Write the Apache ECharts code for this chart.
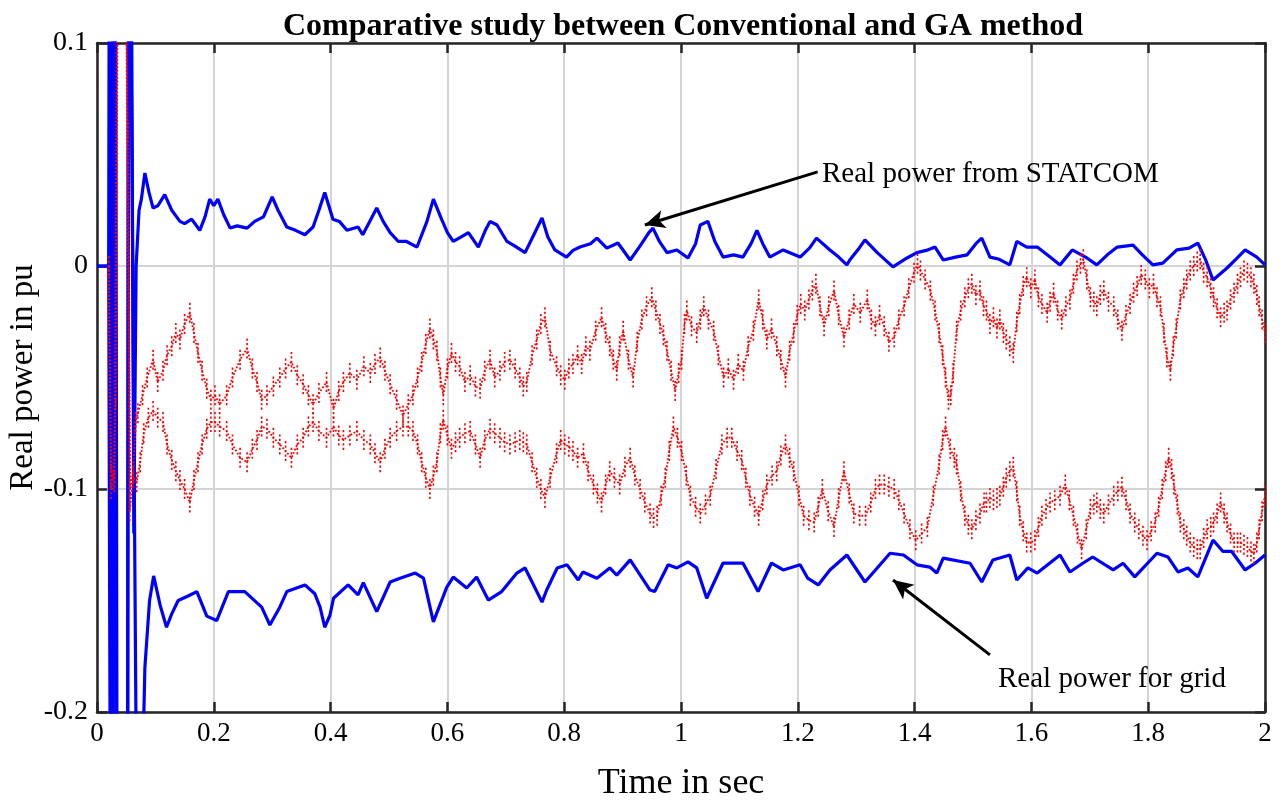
<!DOCTYPE html>
<html>
<head>
<meta charset="utf-8">
<script src="https://cdn.jsdelivr.net/npm/echarts@6/dist/echarts.min.js"></script>
<style>
html,body{margin:0;padding:0;background:#fff;}
#chart{width:1288px;height:809px;}
</style>
</head>
<body>
<div id="chart"></div>
<script>
// ---------- data (time in s, real power in pu) ----------
const titleText = 'Comparative study between Conventional and GA method';
const xTicks = [0, 0.2, 0.4, 0.6, 0.8, 1, 1.2, 1.4, 1.6, 1.8, 2];
const yTicks = [-0.2, -0.1, 0, 0.1];

// Real power from STATCOM (blue, upper)
const statcom = [
[0,0],[0.020,0],[0.022,0.3],[0.026,-0.35],[0.031,0.3],[0.035,-0.35],[0.052,-0.35],[0.055,0.3],[0.058,0.2],
[0.063,-0.12],[0.067,0.0],[0.072,0.025],[0.076,0.030],[0.082,0.0417],[0.089,0.033],[0.096,0.026],[0.104,0.027],
[0.116,0.032],[0.128,0.025],[0.142,0.020],[0.150,0.019],[0.162,0.021],[0.176,0.016],[0.185,0.022],[0.193,0.030],
[0.200,0.027],[0.207,0.030],[0.217,0.023],[0.228,0.017],[0.240,0.018],[0.257,0.017],[0.270,0.020],[0.285,0.022],
[0.300,0.031],[0.310,0.025],[0.325,0.0175],[0.340,0.016],[0.356,0.014],[0.370,0.0175],[0.380,0.025],[0.390,0.033],
[0.404,0.021],[0.415,0.020],[0.428,0.016],[0.447,0.0175],[0.455,0.014],[0.467,0.020],[0.479,0.026],[0.490,0.020],
[0.502,0.015],[0.516,0.011],[0.530,0.011],[0.548,0.0085],[0.565,0.020],[0.576,0.030],[0.590,0.021],[0.600,0.015],
[0.610,0.011],[0.623,0.013],[0.636,0.015],[0.653,0.0085],[0.665,0.016],[0.673,0.020],[0.685,0.0184],[0.702,0.011],
[0.715,0.009],[0.733,0.006],[0.748,0.014],[0.762,0.0215],[0.772,0.013],[0.784,0.0072],[0.804,0.004],[0.815,0.007],
[0.827,0.0085],[0.845,0.010],[0.856,0.0125],[0.873,0.008],[0.892,0.0103],[0.913,0.0027],[0.930,0.009],[0.945,0.015],
[0.952,0.017],[0.963,0.011],[0.976,0.006],[0.993,0.0072],[1.012,0.0036],[1.025,0.010],[1.033,0.0184],[1.046,0.020],
[1.058,0.011],[1.072,0.004],[1.090,0.005],[1.106,0.004],[1.120,0.010],[1.130,0.016],[1.140,0.010],[1.152,0.004],
[1.175,0.0072],[1.204,0.004],[1.220,0.008],[1.232,0.0125],[1.255,0.0072],[1.270,0.004],[1.284,0.0005],[1.289,0.0027],
[1.305,0.008],[1.315,0.0117],[1.336,0.006],[1.363,-0.0004],[1.387,0.0036],[1.404,0.006],[1.420,0.007],[1.435,0.0085],
[1.449,0.0027],[1.470,0.004],[1.490,0.005],[1.505,0.010],[1.515,0.0125],[1.529,0.004],[1.545,0.003],[1.563,0.0005],
[1.575,0.011],[1.592,0.0085],[1.610,0.0085],[1.632,0.004],[1.649,0.0005],[1.670,0.0072],[1.695,0.0036],[1.712,0.0005],
[1.730,0.005],[1.747,0.0085],[1.774,0.0094],[1.790,0.005],[1.808,0.0005],[1.825,0.0013],[1.849,0.0072],[1.870,0.008],
[1.885,0.0103],[1.898,0.003],[1.911,-0.0063],[1.935,-0.0009],[1.950,0.003],[1.966,0.0072],[1.986,0.004],[2.000,0.0005]
];

// Real power for grid (blue, lower)
const grid = [
[0,0],[0.020,0],[0.024,-0.35],[0.029,0.3],[0.033,-0.35],[0.052,-0.35],[0.054,0.3],[0.057,0.15],[0.068,-0.25],
[0.076,-0.25],[0.082,-0.18],[0.090,-0.150],[0.097,-0.139],[0.108,-0.152],[0.119,-0.162],[0.128,-0.156],[0.139,-0.150],
[0.156,-0.148],[0.171,-0.146],[0.188,-0.157],[0.205,-0.159],[0.225,-0.146],[0.253,-0.146],[0.282,-0.153],[0.296,-0.161],
[0.313,-0.153],[0.325,-0.146],[0.356,-0.143],[0.373,-0.147],[0.382,-0.153],[0.390,-0.162],[0.399,-0.1565],[0.405,-0.149],
[0.430,-0.143],[0.447,-0.1475],[0.456,-0.142],[0.479,-0.155],[0.502,-0.1417],[0.519,-0.140],[0.545,-0.1377],[0.559,-0.140],
[0.576,-0.1596],[0.599,-0.144],[0.610,-0.1395],[0.633,-0.1444],[0.650,-0.1395],[0.670,-0.1498],[0.693,-0.146],[0.719,-0.1377],
[0.733,-0.1354],[0.762,-0.1507],[0.770,-0.1453],[0.788,-0.1354],[0.805,-0.134],[0.824,-0.1408],[0.832,-0.1372],[0.856,-0.140],
[0.878,-0.1354],[0.890,-0.1386],[0.913,-0.1318],[0.947,-0.1453],[0.955,-0.146],[0.978,-0.134],[0.993,-0.1354],[1.012,-0.1327],
[1.027,-0.1354],[1.044,-0.149],[1.072,-0.1332],[1.106,-0.1332],[1.132,-0.146],[1.155,-0.1332],[1.175,-0.1363],[1.204,-0.134],
[1.217,-0.140],[1.235,-0.143],[1.255,-0.1363],[1.284,-0.1296],[1.315,-0.1417],[1.336,-0.1354],[1.358,-0.1288],[1.381,-0.1296],
[1.404,-0.134],[1.426,-0.135],[1.438,-0.1377],[1.449,-0.131],[1.495,-0.1333],[1.515,-0.1417],[1.534,-0.1318],[1.563,-0.1296],
[1.575,-0.1408],[1.594,-0.1354],[1.610,-0.1377],[1.649,-0.1296],[1.666,-0.1372],[1.688,-0.1333],[1.705,-0.1305],[1.740,-0.1363],
[1.757,-0.1333],[1.777,-0.1394],[1.815,-0.1288],[1.834,-0.1305],[1.851,-0.1372],[1.868,-0.1354],[1.885,-0.1394],[1.911,-0.1229],
[1.928,-0.128],[1.943,-0.128],[1.966,-0.1363],[1.983,-0.1333],[2.000,-0.1296]
];

// Conventional method (red dotted), upper trace
const redUpper = [
[0.020,0],[0.024,-0.090],[0.028,-0.096],[0.032,-0.060],[0.036,0.150],[0.048,0.150],[0.053,0.060],[0.057,-0.100],
[0.062,-0.092],[0.066,-0.070],[0.070,-0.066],[0.078,-0.058],[0.086,-0.050],[0.096,-0.042],[0.104,-0.052],[0.113,-0.047],
[0.120,-0.040],[0.128,-0.036],[0.135,-0.030],[0.142,-0.033],[0.150,-0.026],[0.159,-0.021],[0.166,-0.030],[0.173,-0.039],
[0.180,-0.047],[0.188,-0.055],[0.195,-0.060],[0.202,-0.058],[0.210,-0.062],[0.222,-0.058],[0.232,-0.050],[0.245,-0.042],
[0.257,-0.037],[0.266,-0.046],[0.274,-0.052],[0.282,-0.060],[0.291,-0.058],[0.302,-0.054],[0.313,-0.050],[0.323,-0.046],
[0.333,-0.043],[0.343,-0.049],[0.353,-0.053],[0.362,-0.058],[0.370,-0.062],[0.380,-0.057],[0.393,-0.052],[0.405,-0.064],
[0.414,-0.056],[0.422,-0.052],[0.433,-0.048],[0.445,-0.051],[0.457,-0.045],[0.468,-0.048],[0.476,-0.044],[0.485,-0.041],
[0.493,-0.047],[0.502,-0.053],[0.513,-0.060],[0.524,-0.067],[0.533,-0.062],[0.541,-0.058],[0.549,-0.050],[0.556,-0.043],
[0.563,-0.035],[0.570,-0.028],[0.576,-0.033],[0.582,-0.038],[0.588,-0.050],[0.593,-0.058],[0.600,-0.046],[0.607,-0.039],
[0.614,-0.043],[0.621,-0.045],[0.630,-0.052],[0.639,-0.049],[0.648,-0.054],[0.656,-0.055],[0.664,-0.047],[0.673,-0.042],
[0.681,-0.050],[0.690,-0.047],[0.698,-0.043],[0.707,-0.042],[0.716,-0.046],[0.724,-0.050],[0.730,-0.054],[0.736,-0.052],
[0.745,-0.040],[0.753,-0.033],[0.760,-0.026],[0.767,-0.023],[0.776,-0.038],[0.787,-0.045],[0.794,-0.049],[0.801,-0.051],
[0.808,-0.046],[0.815,-0.044],[0.823,-0.040],[0.830,-0.044],[0.837,-0.036],[0.844,-0.038],[0.854,-0.029],[0.864,-0.023],
[0.871,-0.030],[0.878,-0.036],[0.884,-0.042],[0.890,-0.047],[0.895,-0.036],[0.901,-0.029],[0.910,-0.042],[0.918,-0.050],
[0.925,-0.034],[0.933,-0.024],[0.941,-0.018],[0.950,-0.014],[0.957,-0.020],[0.964,-0.026],[0.970,-0.031],[0.976,-0.038],
[0.983,-0.047],[0.990,-0.056],[0.996,-0.048],[1.001,-0.042],[1.006,-0.026],[1.010,-0.020],[1.018,-0.027],[1.027,-0.030],
[1.033,-0.024],[1.039,-0.018],[1.047,-0.024],[1.056,-0.029],[1.064,-0.040],[1.073,-0.050],[1.081,-0.046],[1.090,-0.051],
[1.098,-0.044],[1.107,-0.047],[1.115,-0.036],[1.124,-0.029],[1.133,-0.015],[1.140,-0.024],[1.147,-0.033],[1.155,-0.028],
[1.164,-0.036],[1.171,-0.042],[1.179,-0.050],[1.186,-0.038],[1.193,-0.030],[1.199,-0.022],[1.205,-0.017],[1.212,-0.020],
[1.219,-0.015],[1.225,-0.011],[1.231,-0.008],[1.238,-0.018],[1.245,-0.027],[1.253,-0.018],[1.262,-0.011],[1.270,-0.022],
[1.279,-0.032],[1.288,-0.024],[1.296,-0.017],[1.307,-0.021],[1.319,-0.015],[1.326,-0.024],[1.333,-0.027],[1.340,-0.022],
[1.348,-0.027],[1.356,-0.034],[1.365,-0.032],[1.373,-0.024],[1.382,-0.018],[1.390,-0.010],[1.399,-0.003],[1.405,0.001],
[1.410,-0.002],[1.418,-0.006],[1.427,-0.011],[1.435,-0.020],[1.442,-0.030],[1.448,-0.040],[1.453,-0.050],[1.458,-0.060],
[1.462,-0.058],[1.466,-0.048],[1.472,-0.029],[1.479,-0.020],[1.486,-0.014],[1.492,-0.010],[1.498,-0.008],[1.505,-0.013],
[1.512,-0.011],[1.518,-0.018],[1.523,-0.020],[1.529,-0.026],[1.535,-0.023],[1.541,-0.028],[1.546,-0.024],[1.552,-0.030],
[1.557,-0.033],[1.563,-0.036],[1.569,-0.039],[1.575,-0.025],[1.580,-0.017],[1.586,-0.009],[1.592,-0.005],[1.599,-0.010],
[1.606,-0.006],[1.612,-0.014],[1.618,-0.017],[1.627,-0.021],[1.632,-0.016],[1.638,-0.012],[1.645,-0.020],[1.652,-0.024],
[1.659,-0.018],[1.666,-0.015],[1.672,-0.008],[1.678,-0.002],[1.684,0.001],[1.689,0.003],[1.695,-0.006],[1.701,-0.014],
[1.707,-0.016],[1.712,-0.018],[1.718,-0.013],[1.724,-0.011],[1.732,-0.016],[1.741,-0.018],[1.748,-0.024],[1.755,-0.029],
[1.762,-0.022],[1.769,-0.017],[1.775,-0.012],[1.781,-0.009],[1.788,-0.004],[1.795,-0.006],[1.802,-0.010],[1.809,-0.008],
[1.815,-0.014],[1.821,-0.018],[1.827,-0.030],[1.832,-0.041],[1.838,-0.047],[1.843,-0.036],[1.848,-0.028],[1.855,-0.015],
[1.861,-0.010],[1.866,-0.006],[1.872,-0.002],[1.878,0.000],[1.884,0.002],[1.889,0.003],[1.895,-0.003],[1.901,-0.005],
[1.907,-0.010],[1.912,-0.014],[1.918,-0.019],[1.924,-0.023],[1.930,-0.021],[1.935,-0.020],[1.941,-0.015],[1.947,-0.012],
[1.953,-0.008],[1.958,-0.005],[1.964,-0.002],[1.970,-0.003],[1.976,-0.005],[1.981,-0.008],[1.986,-0.013],[1.990,-0.018],
[1.995,-0.024],[2.000,-0.030]
];

// Conventional method (red dotted), lower trace
const redLower = [
[0.020,0],[0.024,-0.100],[0.030,-0.097],[0.034,0.120],[0.050,0.120],[0.056,-0.110],[0.062,-0.095],[0.068,-0.097],
[0.074,-0.088],[0.080,-0.075],[0.088,-0.068],[0.096,-0.065],[0.104,-0.068],[0.113,-0.070],[0.120,-0.080],[0.128,-0.087],
[0.135,-0.092],[0.142,-0.096],[0.150,-0.100],[0.159,-0.106],[0.166,-0.096],[0.173,-0.088],[0.180,-0.080],[0.188,-0.073],
[0.195,-0.070],[0.202,-0.070],[0.210,-0.072],[0.222,-0.074],[0.232,-0.080],[0.245,-0.086],[0.257,-0.088],[0.266,-0.082],
[0.274,-0.078],[0.282,-0.072],[0.291,-0.073],[0.302,-0.077],[0.313,-0.080],[0.323,-0.083],[0.333,-0.086],[0.343,-0.080],
[0.353,-0.077],[0.362,-0.072],[0.370,-0.070],[0.380,-0.074],[0.393,-0.077],[0.405,-0.072],[0.414,-0.076],[0.422,-0.078],
[0.433,-0.076],[0.445,-0.074],[0.457,-0.078],[0.468,-0.080],[0.476,-0.084],[0.485,-0.088],[0.493,-0.082],[0.502,-0.077],
[0.513,-0.074],[0.524,-0.072],[0.533,-0.072],[0.541,-0.074],[0.549,-0.080],[0.556,-0.088],[0.563,-0.095],[0.570,-0.100],
[0.576,-0.094],[0.582,-0.088],[0.588,-0.075],[0.593,-0.069],[0.600,-0.076],[0.607,-0.082],[0.614,-0.079],[0.621,-0.077],
[0.630,-0.075],[0.639,-0.074],[0.648,-0.080],[0.656,-0.086],[0.664,-0.078],[0.673,-0.073],[0.681,-0.075],[0.690,-0.077],
[0.698,-0.079],[0.707,-0.080],[0.716,-0.079],[0.724,-0.078],[0.730,-0.079],[0.736,-0.080],[0.745,-0.088],[0.753,-0.095],
[0.760,-0.100],[0.767,-0.104],[0.776,-0.095],[0.787,-0.084],[0.794,-0.078],[0.801,-0.080],[0.808,-0.081],[0.815,-0.083],
[0.823,-0.086],[0.833,-0.084],[0.841,-0.092],[0.850,-0.098],[0.857,-0.102],[0.864,-0.106],[0.871,-0.098],[0.878,-0.092],
[0.886,-0.095],[0.895,-0.098],[0.904,-0.090],[0.913,-0.086],[0.921,-0.094],[0.930,-0.100],[0.938,-0.106],[0.947,-0.111],
[0.953,-0.113],[0.959,-0.112],[0.966,-0.103],[0.973,-0.095],[0.980,-0.083],[0.987,-0.072],[0.994,-0.077],[1.001,-0.083],
[1.009,-0.094],[1.016,-0.103],[1.025,-0.108],[1.033,-0.111],[1.042,-0.107],[1.050,-0.103],[1.060,-0.091],[1.070,-0.080],
[1.079,-0.077],[1.087,-0.077],[1.096,-0.083],[1.104,-0.087],[1.111,-0.095],[1.118,-0.103],[1.126,-0.108],[1.133,-0.112],
[1.140,-0.105],[1.147,-0.098],[1.156,-0.094],[1.164,-0.092],[1.171,-0.085],[1.179,-0.080],[1.186,-0.086],[1.193,-0.092],
[1.202,-0.103],[1.210,-0.112],[1.219,-0.114],[1.228,-0.115],[1.235,-0.108],[1.242,-0.100],[1.252,-0.110],[1.262,-0.117],
[1.270,-0.104],[1.279,-0.092],[1.288,-0.102],[1.296,-0.111],[1.306,-0.112],[1.316,-0.112],[1.325,-0.106],[1.333,-0.100],
[1.340,-0.098],[1.348,-0.098],[1.356,-0.099],[1.365,-0.100],[1.373,-0.105],[1.382,-0.111],[1.392,-0.118],[1.402,-0.123],
[1.412,-0.120],[1.422,-0.117],[1.432,-0.103],[1.442,-0.089],[1.448,-0.078],[1.453,-0.072],[1.461,-0.082],[1.468,-0.086],
[1.472,-0.089],[1.479,-0.101],[1.486,-0.112],[1.492,-0.116],[1.498,-0.118],[1.505,-0.114],[1.512,-0.111],[1.519,-0.106],
[1.523,-0.106],[1.529,-0.104],[1.535,-0.105],[1.541,-0.104],[1.546,-0.103],[1.552,-0.099],[1.557,-0.095],[1.563,-0.092],
[1.569,-0.090],[1.575,-0.101],[1.580,-0.112],[1.586,-0.119],[1.592,-0.124],[1.599,-0.124],[1.606,-0.123],[1.612,-0.117],
[1.618,-0.112],[1.625,-0.109],[1.632,-0.106],[1.640,-0.105],[1.649,-0.103],[1.658,-0.098],[1.665,-0.105],[1.672,-0.112],
[1.679,-0.120],[1.686,-0.127],[1.694,-0.118],[1.701,-0.109],[1.707,-0.107],[1.712,-0.106],[1.718,-0.109],[1.724,-0.111],
[1.732,-0.107],[1.741,-0.103],[1.748,-0.101],[1.755,-0.099],[1.762,-0.105],[1.769,-0.111],[1.777,-0.115],[1.784,-0.118],
[1.791,-0.121],[1.798,-0.123],[1.805,-0.119],[1.812,-0.115],[1.818,-0.108],[1.824,-0.100],[1.830,-0.092],[1.835,-0.086],
[1.840,-0.091],[1.844,-0.098],[1.850,-0.107],[1.855,-0.115],[1.861,-0.118],[1.866,-0.121],[1.872,-0.124],[1.878,-0.126],
[1.884,-0.127],[1.889,-0.127],[1.895,-0.122],[1.901,-0.118],[1.907,-0.117],[1.912,-0.115],[1.918,-0.111],[1.924,-0.106],
[1.930,-0.111],[1.935,-0.115],[1.941,-0.120],[1.947,-0.124],[1.953,-0.124],[1.958,-0.124],[1.964,-0.125],[1.970,-0.126],
[1.976,-0.128],[1.981,-0.129],[1.986,-0.124],[1.990,-0.118],[1.995,-0.110],[2.000,-0.103]
];

// annotation arrows: [tail, head] in data coordinates
const statcomArrow = [[1.234, 0.0422], [0.938, 0.0184]];
const gridArrow = [[1.529, -0.1744], [1.363, -0.1408]];
const statcomLabel = 'Real power from STATCOM';
const gridLabel = 'Real power for grid';

// ---------- chart ----------
const FONT = 'Liberation Serif';
const AX = '#262626';
const chart = echarts.init(document.getElementById('chart'), null, {renderer: 'canvas'});

function axisBase(extra) {
  return Object.assign({
    type: 'value',
    axisLine: {show: true, onZero: false, lineStyle: {color: AX, width: 2.5}},
    axisTick: {show: true, inside: true, length: 10, lineStyle: {color: AX, width: 2.5}},
    splitLine: {show: false},
    axisLabel: {show: false}
  }, extra);
}

// dotted vertical tick used to render the fast ripple of the conventional-method trace
const redSymbol = 'path://M0,0L1,0L1,2L0,2Z M0,4L1,4L1,6L0,6Z M0,8L1,8L1,10L0,10Z M0,12L1,12L1,14L0,14Z M0,16L1,16L1,18L0,18Z';

const option = {
  animation: false,
  backgroundColor: '#ffffff',
  title: {
    text: titleText,
    left: 678, top: 6, textAlign: 'center',
    textStyle: {fontFamily: FONT, fontWeight: 'bold', fontSize: 32, color: '#000'}
  },
  grid: {left: 97, right: 23, top: 43, bottom: 97, containLabel: false, outerBoundsMode: 'none'},
  xAxis: [
    axisBase({
      min: 0, max: 2, interval: 0.2, position: 'bottom',
      name: 'Time in sec', nameLocation: 'middle', nameGap: 54, nameMoveOverlap: false,
      nameTextStyle: {fontFamily: FONT, fontSize: 36, color: '#000'},
      axisLabel: {show: true, fontFamily: FONT, fontSize: 27, color: '#000', margin: 8},
      splitLine: {show: true, lineStyle: {color: '#d4d4d4', width: 2}}
    }),
    axisBase({min: 0, max: 2, interval: 0.2, position: 'top'})
  ],
  yAxis: [
    axisBase({
      min: -0.2, max: 0.1, interval: 0.1, position: 'left',
      name: 'Real power in pu', nameLocation: 'middle', nameGap: 57, nameRotate: 90, nameMoveOverlap: false,
      nameTextStyle: {fontFamily: FONT, fontSize: 33, color: '#000'},
      axisLabel: {show: true, fontFamily: FONT, fontSize: 28, color: '#000', margin: 9},
      splitLine: {show: true, lineStyle: {color: '#d4d4d4', width: 2}}
    }),
    axisBase({min: -0.2, max: 0.1, interval: 0.1, position: 'right'})
  ],
  series: [
    {
      name: 'STATCOM', type: 'line', data: statcom, showSymbol: false, clip: true,
      lineStyle: {color: '#0000ff', width: 3.2}, z: 3
    },
    {
      name: 'Grid', type: 'line', data: grid, showSymbol: false, clip: true,
      lineStyle: {color: '#0000ff', width: 3.2}, z: 3
    },
    {
      name: 'Conventional upper', type: 'line', data: redUpper, clip: true,
      symbol: redSymbol, symbolSize: [1.6, 20], showAllSymbol: true, symbolKeepAspect: false,
      itemStyle: {color: '#ff0000'},
      lineStyle: {color: '#ff0000', width: 1.8, type: 'dotted'}, z: 4
    },
    {
      name: 'Conventional lower', type: 'line', data: redLower, clip: true,
      symbol: redSymbol, symbolSize: [1.6, 20], showAllSymbol: true, symbolKeepAspect: false,
      itemStyle: {color: '#ff0000'},
      lineStyle: {color: '#ff0000', width: 1.8, type: 'dotted'}, z: 4
    },
    {
      name: 'arrows', type: 'line', data: [], z: 6,
      markLine: {
        silent: true, animation: false,
        symbol: ['none', 'arrow'], symbolSize: [14, 20],
        lineStyle: {color: '#000', width: 3, type: 'solid'},
        label: {show: false},
        data: [
          [{coord: statcomArrow[0]}, {coord: statcomArrow[1]}],
          [{coord: gridArrow[0]}, {coord: gridArrow[1]}]
        ]
      }
    }
  ],
  graphic: [
    {type: 'text', left: 822, top: 160, z: 10,
      style: {text: statcomLabel, font: '29px "Liberation Serif"', fill: '#000'}},
    {type: 'text', left: 998, top: 665, z: 10,
      style: {text: gridLabel, font: '29px "Liberation Serif"', fill: '#000'}}
  ]
};
chart.setOption(option);
</script>
</body>
</html>
